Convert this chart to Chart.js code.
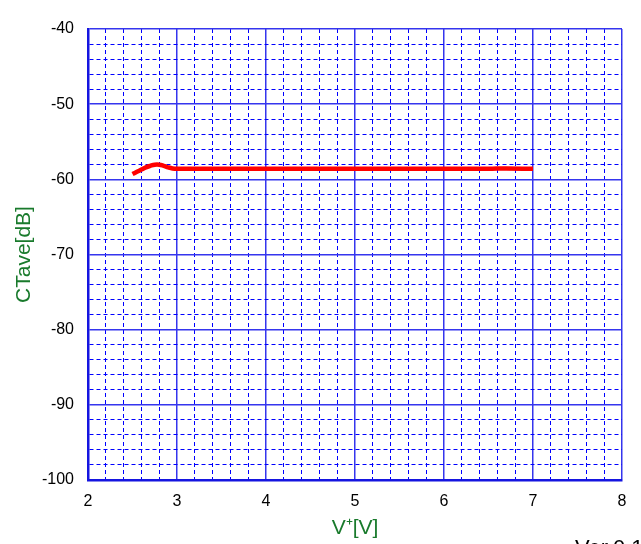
<!DOCTYPE html>
<html lang="en">
<head>
    <meta charset="UTF-8">
    <title>CTave vs V+</title>
    <script src="https://cdn.jsdelivr.net/npm/chart.js@4.4.0/dist/chart.umd.min.js"></script>
    <style>
        html, body { margin: 0; padding: 0; background: #fff; overflow: hidden; }
        #wrap { position: relative; width: 641px; height: 544px; }
        #ver { position: absolute; left: 575px; top: 535px; font: 22px "Liberation Sans", Arial, sans-serif; color: #000; white-space: nowrap; }
    </style>
</head>
<body>
    <div id="wrap">
        <canvas id="myChart" width="641" height="544"></canvas>
        <div id="ver">Ver.0.1</div>
    </div>

    <script>
        // values
        const voltage = [2.5, 2.55, 2.6, 2.65, 2.7, 2.75, 2.8, 2.85, 2.9, 2.95, 3.0, 3.5, 4.0, 4.5, 5.0, 5.5, 6.0, 6.5, 6.7, 7.0];
        const ctave = [-59.3, -59.0, -58.7, -58.4, -58.2, -58.05, -58.05, -58.2, -58.4, -58.55, -58.6, -58.6, -58.6, -58.6, -58.6, -58.6, -58.6, -58.6, -58.55, -58.6];
        const xTicks = { min: 2, max: 8, major: 1, minor: 0.2 };
        const yTicks = { min: -100, max: -40, major: 10, minor: 2 };

        const isMajor = (v, step) => Math.abs(v / step - Math.round(v / step)) < 1e-6;

        const points = voltage.map((v, i) => ({ x: v, y: ctave[i] }));
        const labelFont = { family: '"Liberation Sans", Arial, sans-serif', size: 16 };
        const titleFont = { family: '"Liberation Sans", Arial, sans-serif', size: 21 };

        function gridOpts(step) {
            return {
                color: ctx => isMajor(ctx.tick.value, step) ? '#3535ee' : '#0000ff',
                lineWidth: ctx => isMajor(ctx.tick.value, step) ? 1.5 : 1,
                drawTicks: false
            };
        }
        function borderOpts(step) {
            return {
                color: '#1515e0',
                width: 2.5,
                dash: ctx => (ctx.tick && !isMajor(ctx.tick.value, step)) ? [4, 3] : []
            };
        }

        const ctx = document.getElementById('myChart').getContext('2d');
        new Chart(ctx, {
            type: 'scatter',
            data: {
                datasets: [{
                    data: points,
                    showLine: true,
                    borderColor: '#ff0000',
                    borderWidth: 4.5,
                    pointRadius: 0,
                    tension: 0.4
                }]
            },
            options: {
                responsive: false,
                animation: false,
                layout: { padding: { top: 29, right: 19, left: 0, bottom: 0 } },
                plugins: { legend: { display: false }, tooltip: { enabled: false } },
                scales: {
                    x: {
                        type: 'linear',
                        min: xTicks.min,
                        max: xTicks.max,
                        afterFit: s => { s.height = 64; },
                        ticks: {
                            stepSize: xTicks.minor,
                            autoSkip: false,
                            maxRotation: 0,
                            padding: 12,
                            color: '#000',
                            font: labelFont,
                            callback: v => isMajor(v, xTicks.major) ? String(Math.round(v)) : ''
                        },
                        grid: gridOpts(xTicks.major),
                        border: borderOpts(xTicks.major),
                        title: {
                            display: true,
                            text: 'V\u207A[V]',
                            color: '#197a2c',
                            font: titleFont,
                            padding: { top: 0, bottom: 3 }
                        }
                    },
                    y: {
                        min: yTicks.min,
                        max: yTicks.max,
                        afterFit: s => { s.width = 88; },
                        ticks: {
                            stepSize: yTicks.minor,
                            autoSkip: false,
                            padding: 14,
                            color: '#000',
                            font: labelFont,
                            callback: v => isMajor(v, yTicks.major) ? String(Math.round(v)) : ''
                        },
                        grid: gridOpts(yTicks.major),
                        border: borderOpts(yTicks.major),
                        title: {
                            display: true,
                            text: 'CTave[dB]',
                            color: '#197a2c',
                            font: titleFont,
                            padding: { top: 12, bottom: 0 }
                        }
                    }
                }
            }
        });
    </script>
</body>
</html>
